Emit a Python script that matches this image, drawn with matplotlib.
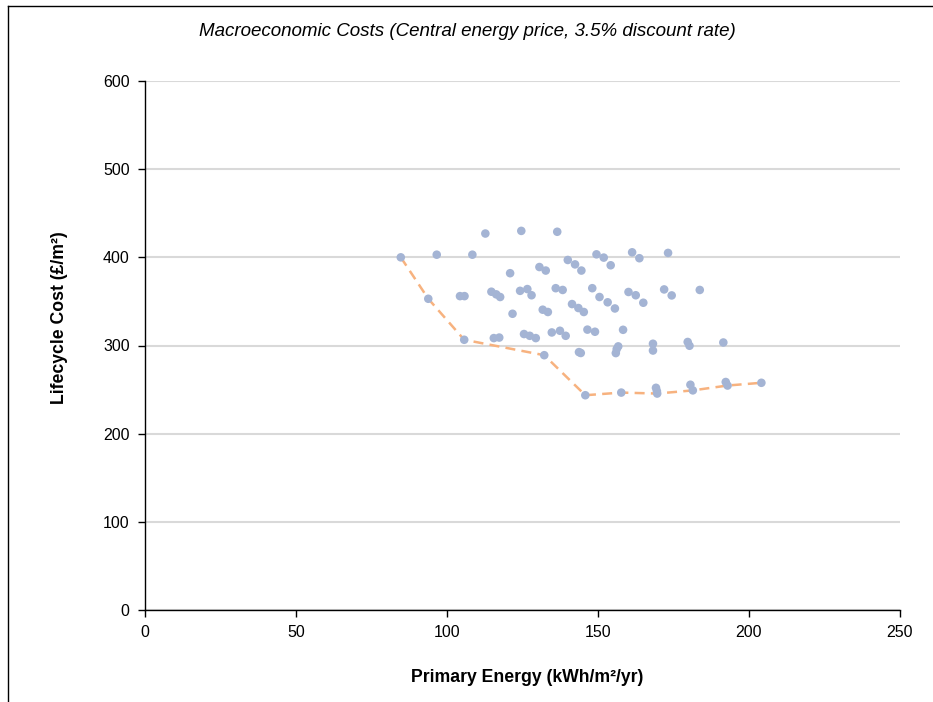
import matplotlib
matplotlib.use("Agg")
import matplotlib.pyplot as plt
from matplotlib.lines import Line2D

plt.rcParams['font.family'] = ['Liberation Sans', 'DejaVu Sans']

# Scatter data: primary energy (kWh/m2/yr) vs lifecycle cost (GBP/m2)
energy = [84.7, 96.6, 108.4, 112.7, 124.6, 136.5, 140.0, 142.4, 144.5, 120.9,
          130.6, 132.7, 93.8, 104.3, 105.8, 114.7, 116.3, 117.6, 124.2, 126.6,
          128.0, 136.0, 138.3, 141.4, 143.5, 121.7, 131.7, 133.4, 105.7, 115.5,
          117.3, 125.5, 127.4, 129.4, 134.7, 137.4, 139.3, 132.2, 143.7, 144.3,
          149.5, 151.9, 154.2, 161.3, 163.7, 173.2, 148.1, 150.5, 153.2, 155.6,
          160.1, 162.5, 165.0, 171.9, 174.4, 183.7, 145.3, 146.5, 149.0, 158.3,
          155.9, 156.2, 156.7, 168.2, 168.2, 179.7, 180.3, 191.5, 145.8, 157.7,
          169.2, 169.5, 169.6, 180.6, 181.4, 192.3, 192.9, 204.1]
cost = [400, 403, 403, 427, 430, 429, 397, 392, 385, 382,
        389, 385, 353, 356, 356, 361, 358, 355, 362, 364,
        357, 365, 363, 347, 342.5, 336, 340.6, 338, 306.5, 308.4,
        309, 313, 311, 308.4, 314.8, 316.7, 311, 289, 292.5, 291.5,
        403.4, 399.7, 391, 405.7, 399, 405, 365, 355, 349, 342,
        360.7, 357, 348.5, 363.6, 356.8, 363, 338, 318, 315.6, 317.8,
        291.4, 296, 299, 302, 294.3, 304, 299.7, 303.4, 243.6, 246.6,
        252, 248.3, 245.5, 255.5, 249.1, 258.6, 254.6, 257.7]

# Cost-optimal frontier
front_energy = [84.7, 93.8, 105.7, 132.2, 145.8, 157.7, 169.6, 181.4, 192.9, 204.1]
front_cost = [400, 353, 306.5, 289, 243.6, 246.6, 245.5, 249.1, 254.6, 257.7]

x_ticks = [0, 50, 100, 150, 200, 250]
y_ticks = [0, 100, 200, 300, 400, 500, 600]

fig = plt.figure(figsize=(9.33, 7.02), dpi=100)
ax = fig.add_axes([145/933, 1-610/702, 755/933, 529/702])

ax.plot(front_energy, front_cost, color='#f7b27f', lw=1.8, ls=(0, (4, 2.5)), zorder=2)
ax.scatter(energy, cost, s=38, color='#a4b4d4', edgecolors='none', zorder=3)

ax.set_xlim(0, 250)
ax.set_ylim(0, 600)
ax.set_xticks(x_ticks)
ax.set_yticks(y_ticks)
ax.yaxis.grid(True, color='#d9d9d9', lw=1.5)
ax.set_axisbelow(True)
for s in ['top', 'right']:
    ax.spines[s].set_visible(False)
for s in ['left', 'bottom']:
    ax.spines[s].set_color('black')
    ax.spines[s].set_linewidth(1.0)
ax.tick_params(axis='both', labelsize=11.5, colors='black', length=5, width=1.0)
ax.tick_params(axis='x', pad=6)
ax.tick_params(axis='y', pad=6)

fig.text(0.5 * (197 + 738) / 933, 1 - 31/702,
         'Macroeconomic Costs (Central energy price, 3.5% discount rate)',
         ha='center', va='center', fontsize=13.5, style='italic')
fig.text(527/933, 1 - 678/702, 'Primary Energy (kWh/m²/yr)',
         ha='center', va='center', fontsize=12.7, fontweight='bold')
fig.text(60/933, 1 - 318/702, 'Lifecycle Cost (£/m²)',
         ha='center', va='center', fontsize=12.7, fontweight='bold', rotation=90)

# chart-area border (partially visible)
fig.add_artist(Line2D([8/933, 8/933], [0, 1 - 6/702], transform=fig.transFigure,
                      color='black', lw=1.0))
fig.add_artist(Line2D([8/933, 1], [1 - 6/702, 1 - 6/702], transform=fig.transFigure,
                      color='black', lw=1.0))

fig.savefig('out.png', dpi=100)
